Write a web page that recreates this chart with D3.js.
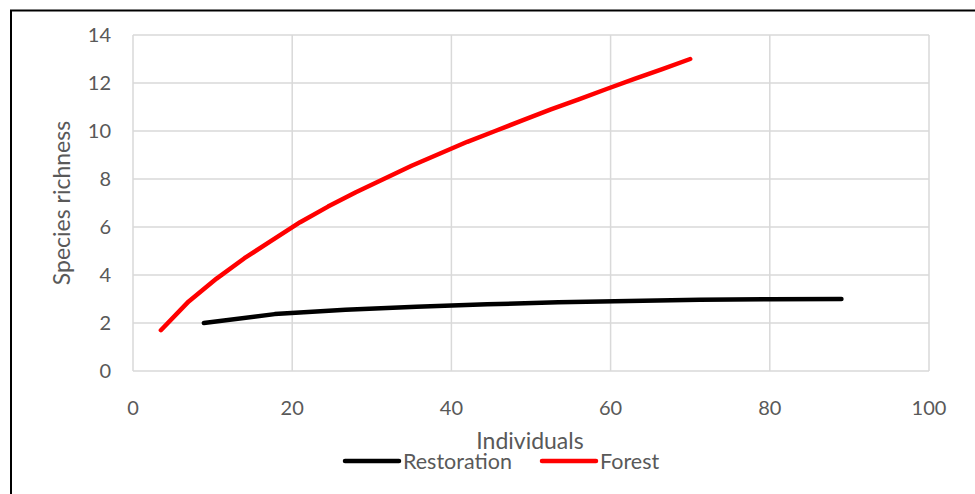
<!DOCTYPE html>
<html><head><meta charset="utf-8">
<script src="https://cdn.jsdelivr.net/npm/d3@7"></script>
<style>body{margin:0;background:#fff}svg{display:block}text{font-family:Lato,"Open Sans",sans-serif;fill:#595959}</style>
</head><body><svg id="c" width="975" height="494"></svg>
<script>
const xTicks = [0, 20, 40, 60, 80, 100];
const yTicks = [0, 2, 4, 6, 8, 10, 12, 14];
const restorationX = [8.9, 17.8, 26.7, 35.6, 44.5, 53.4, 62.3, 71.2, 80.1, 89];
const restorationY = [2.0, 2.37, 2.55, 2.68, 2.78, 2.86, 2.92, 2.97, 2.99, 3.0];
const forestX = [3.5, 7, 10.5, 14, 17.5, 21, 24.5, 28, 31.5, 35, 38.5, 42, 45.5, 49, 52.5, 56, 59.5, 63, 66.5, 70];
const forestY = [1.7, 2.9, 3.85, 4.7, 5.45, 6.2, 6.85, 7.45, 8.0, 8.55, 9.05, 9.55, 10.0, 10.45, 10.9, 11.32, 11.75, 12.17, 12.58, 13.0];
const seriesNames = ["Restoration", "Forest"];
const seriesColors = ["#000000", "#ff0000"];

const svg = d3.select("#c");
const x = d3.scaleLinear().domain([0, 100]).range([133, 929]);
const y = d3.scaleLinear().domain([0, 14]).range([371, 35]);

svg.append("path").attr("d", "M11,494 V10.5 H975").attr("fill", "none").attr("stroke", "#000").attr("stroke-width", 2);

svg.append("g").selectAll("line").data(yTicks).join("line")
  .attr("x1", x(0)).attr("x2", x(100)).attr("y1", d => y(d)).attr("y2", d => y(d))
  .attr("stroke", "#d9d9d9").attr("stroke-width", 1.5);
svg.append("g").selectAll("line").data(xTicks).join("line")
  .attr("y1", y(0)).attr("y2", y(14)).attr("x1", d => x(d)).attr("x2", d => x(d))
  .attr("stroke", "#d9d9d9").attr("stroke-width", 1.5);

svg.append("g").selectAll("text").data(yTicks).join("text")
  .attr("x", 111).attr("y", d => y(d)).attr("dy", "0.35em").attr("text-anchor", "end")
  .attr("font-size", 20).text(d => d);
svg.append("g").selectAll("text").data(xTicks).join("text")
  .attr("x", d => x(d)).attr("y", 408).attr("dy", "0.35em").attr("text-anchor", "middle")
  .attr("font-size", 20).text(d => d);

svg.append("text").attr("transform", "translate(70,203) rotate(-90)").attr("text-anchor", "middle")
  .attr("font-size", 23).text("Species richness");
svg.append("text").attr("x", 530).attr("y", 441).attr("dy", "0.35em").attr("text-anchor", "middle")
  .attr("font-size", 23).text("Individuals");

const line = d3.line().x(d => x(d[0])).y(d => y(d[1]));
const data = [d3.zip(restorationX, restorationY), d3.zip(forestX, forestY)];
data.forEach((pts, i) => {
  svg.append("path").attr("d", line(pts)).attr("fill", "none")
    .attr("stroke", seriesColors[i]).attr("stroke-width", 4.5)
    .attr("stroke-linecap", "round").attr("stroke-linejoin", "round");
});

const legX = [345, 542];
seriesNames.forEach((n, i) => {
  svg.append("line").attr("x1", legX[i]).attr("x2", legX[i] + 54).attr("y1", 461).attr("y2", 461)
    .attr("stroke", seriesColors[i]).attr("stroke-width", 4.5).attr("stroke-linecap", "round");
  svg.append("text").attr("x", legX[i] + 58).attr("y", 461).attr("dy", "0.35em")
    .attr("font-size", 21.5).text(n);
});
</script></body></html>
